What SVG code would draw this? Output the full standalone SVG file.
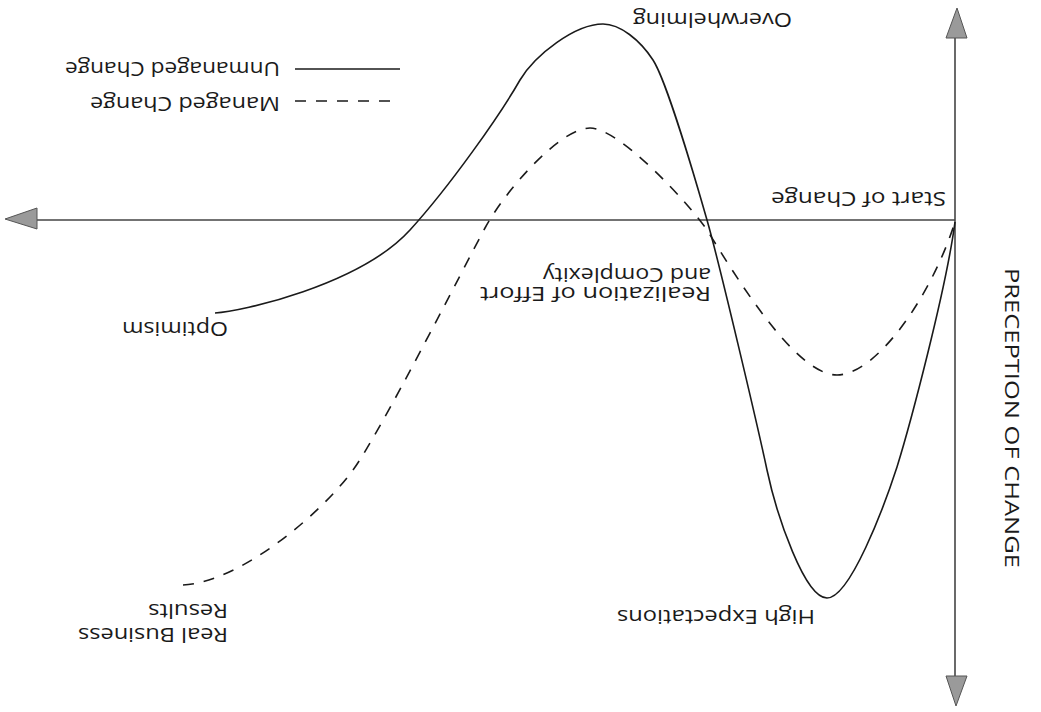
<svg xmlns="http://www.w3.org/2000/svg" width="1041" height="712" viewBox="0 0 1041 712">
<style>
.lbl{font-family:"Open Sans","DejaVu Sans",sans-serif;font-size:20px;fill:#1a1a1a}
.axis{stroke:#444;stroke-width:1.6;fill:none}
.solid{stroke:#1a1a1a;stroke-width:1.6;fill:none}
.dash{stroke:#1a1a1a;stroke-width:1.6;fill:none;stroke-dasharray:11 10}
.head{fill:#9a9a9a;stroke:#555;stroke-width:1}
</style>
<rect width="1041" height="712" fill="#fff"/>
<g id="axes">
<line class="axis" x1="36" y1="220" x2="955" y2="220"/>
<line class="axis" x1="955" y1="36" x2="955" y2="678"/>
<polygon class="head" points="5,219 37,208 37,229"/>
<polygon class="head" points="957,8 946,38 967,38"/>
<polygon class="head" points="956,706 946,676 967,676"/>
</g>
<g id="connectors">
<path id="unmanaged" class="solid" d="M215,313 C240,312 360,285 410,230 C450,186 500,115 520,80 C535,55 575,24 603,24 C620,24 640,40 653,60 C666,80 695,178 707,220 C719,262 757,423 767,470 C777,517 805,598 827,598 C850,598 884,507 897,467 C910,425 946,290 955,222"/>
<path id="managed" class="dash" d="M183,585 C240,582 320,515 353,470 C380,433 465,265 485,228 C505,191 560,128 590,128 C620,128 690,205 707,230 C735,275 795,375 837,375 C875,375 930,300 955,222"/>
<line class="solid" x1="295" y1="69" x2="400" y2="69"/>
<line class="dash" x1="295" y1="101" x2="400" y2="101"/>
</g>
<g id="labels">
<g id="overwhelming"><text class="lbl" x="792" y="13" textLength="159" lengthAdjust="spacingAndGlyphs" transform="rotate(180 792 13)">Overwhelming</text></g>
<g id="legend-unmanaged"><text class="lbl" x="280" y="62" textLength="215" lengthAdjust="spacingAndGlyphs" transform="rotate(180 280 62)">Unmanaged Change</text></g>
<g id="legend-managed"><text class="lbl" x="280" y="97" textLength="190" lengthAdjust="spacingAndGlyphs" transform="rotate(180 280 97)">Managed Change</text></g>
<g id="start"><text class="lbl" x="946" y="192" textLength="175" lengthAdjust="spacingAndGlyphs" transform="rotate(180 946 192)">Start of Change</text></g>
<g id="realization">
<text class="lbl" x="711" y="287" textLength="231" lengthAdjust="spacingAndGlyphs" transform="rotate(180 711 287)">Realization of Effort</text>
<text class="lbl" x="711" y="268" textLength="168" lengthAdjust="spacingAndGlyphs" transform="rotate(180 711 268)">and Complexity</text>
</g>
<g id="optimism"><text class="lbl" x="228" y="322" textLength="106" lengthAdjust="spacingAndGlyphs" transform="rotate(180 228 322)">Optimism</text></g>
<g id="real-business">
<text class="lbl" x="228" y="628" textLength="150" lengthAdjust="spacingAndGlyphs" transform="rotate(180 228 628)">Real Business</text>
<text class="lbl" x="228" y="604" textLength="80" lengthAdjust="spacingAndGlyphs" transform="rotate(180 228 604)">Results</text>
</g>
<g id="high-expectations"><text class="lbl" x="815" y="610" textLength="198" lengthAdjust="spacingAndGlyphs" transform="rotate(180 815 610)">High Expectations</text></g>
<g id="perception"><text class="lbl" x="1005" y="268" textLength="300" lengthAdjust="spacingAndGlyphs" transform="rotate(90 1005 268)">PRECEPTION OF CHANGE</text></g>
</g>
</svg>
